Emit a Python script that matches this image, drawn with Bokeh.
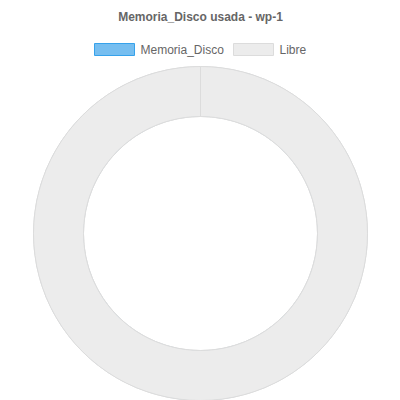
import math
from bokeh.plotting import figure
from bokeh.models import Range1d, ColumnDataSource
from bokeh.core.properties import value
from bokeh.embed import file_html
from bokeh.resources import INLINE

title_text = "Memoria_Disco usada - wp-1"
categories = ["Memoria_Disco", "Libre"]
values = [0, 100]
fill_colors = ["#76bef0", "#ececec"]
line_colors = ["#36a2eb", "#dcdcdc"]

W, H = 400, 400
p = figure(width=W, height=H, output_backend="svg", toolbar_location=None,
           x_range=Range1d(0, W), y_range=Range1d(0, H), min_border=0)
p.axis.visible = False
p.grid.visible = False
p.outline_line_color = None
p.background_fill_color = "white"
p.border_fill_color = "white"

# doughnut
total = sum(values)
starts, ends = [], []
cum = 0.0
for v in values:
    a0 = math.pi / 2 - 2 * math.pi * cum / total
    cum += v
    a1 = math.pi / 2 - 2 * math.pi * cum / total
    if abs(a0 - a1) >= 2 * math.pi - 1e-9:
        a1 = a0 - 2 * math.pi + 1e-6
    starts.append(a0)
    ends.append(a1)

cx, cy = 200, H - 233
src = ColumnDataSource(dict(start=starts, end=ends, fill=fill_colors,
                            line=["#dcdcdc", "#dcdcdc"], cat=categories))
p.annular_wedge(x=cx, y=cy, inner_radius=117, outer_radius=167,
                start_angle="start", end_angle="end", direction="clock",
                fill_color="fill", line_color="line", line_width=1, source=src)

# title
p.text(x=[W / 2], y=[H - 16], text=[title_text], text_align="center",
       text_baseline="middle", text_font=value("Liberation Sans"),
       text_font_size="12px", text_font_style="bold", text_color="#666666")

# legend
box_x = [114, 253]
text_x = [140, 279]
ly = H - 49
p.rect(x=box_x, y=[ly, ly], width=40, height=12, fill_color=fill_colors,
       line_color=line_colors, line_width=1)
p.text(x=text_x, y=[ly, ly], text=categories, text_align="left",
       text_baseline="middle", text_font=value("Liberation Sans"),
       text_font_size="12px", text_color="#666666")

open("out.html", "w").write(file_html(p, INLINE))
